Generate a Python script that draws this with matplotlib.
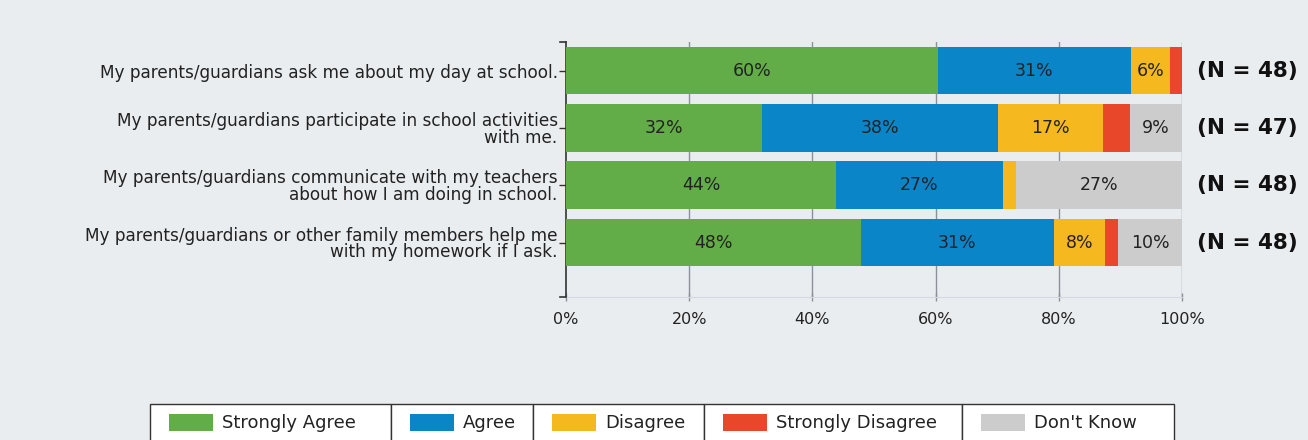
import numpy as np
import matplotlib
matplotlib.use("Agg")
import matplotlib.pyplot as plt
from matplotlib.patches import Rectangle

plt.rcParams['font.family'] = ['DejaVu Sans']

# survey items, top to bottom
questions = [
    "My parents/guardians ask me about my day at school.",
    "My parents/guardians participate in school activities\nwith me.",
    "My parents/guardians communicate with my teachers\nabout how I am doing in school.",
    "My parents/guardians or other family members help me\nwith my homework if I ask.",
]
n_resp = [48, 47, 48, 48]

categories = ["Strongly Agree", "Agree", "Disagree", "Strongly Disagree", "Don't Know"]
colors = ["#62ad47", "#0a85c8", "#f5b81e", "#e8472a", "#cccccc"]

# percent of respondents per category
strongly_agree = [60.4, 31.9, 43.8, 47.9]
agree = [31.3, 38.3, 27.1, 31.3]
disagree = [6.3, 17.0, 2.1, 8.3]
strongly_disagree = [2.1, 4.3, 0.0, 2.1]
dont_know = [0.0, 8.51, 27.1, 10.4]

series = [strongly_agree, agree, disagree, strongly_disagree, dont_know]
bg = "#eaedf0"
txt = "#222222"

fig = plt.figure(figsize=(13.08, 4.40), dpi=100, facecolor=bg)
ax = fig.add_axes([0.4327, 0.325, 0.4710, 0.5795])
ax.set_facecolor(bg)

y = np.arange(len(questions))
left = np.zeros(len(questions))
for vals, col in zip(series, colors):
    vals = np.array(vals)
    ax.barh(y, vals, left=left, height=0.83, color=col, zorder=3)
    for yi, (l, v) in enumerate(zip(left, vals)):
        if v >= 5:
            ax.text(l + v / 2, yi, f"{v:.0f}%", ha='center', va='center',
                    fontsize=12.5, color=txt, zorder=4)
    left += vals

ax.set_xlim(0, 100)
ax.set_ylim(3.95, -0.5)
ax.set_xticks([0, 20, 40, 60, 80, 100])
ax.set_xticklabels([f"{t}%" for t in range(0, 101, 20)], fontsize=11.5, color=txt)
ax.set_yticks(y)
ax.set_yticklabels(questions, fontsize=12.2, color=txt, linespacing=0.9)
ax.tick_params(axis='y', length=5, width=1, color="#333333", pad=1)
ax.tick_params(axis='x', length=6, width=1, color="#8a9199", pad=8, direction='inout')

for t in [20, 40, 60, 80, 100]:
    ax.axvline(t, color="#8a9199", lw=1, zorder=1)

for s in ['top', 'right']:
    ax.spines[s].set_visible(False)
ax.spines['bottom'].set_color("#d5d9de")
ax.spines['left'].set_color("#333333")
ax.spines['left'].set_linewidth(1.2)
# small end caps on the category axis
ax.plot([-1.0, 0], [-0.5, -0.5], color="#333333", lw=1.2, clip_on=False, zorder=5)
ax.plot([-1.0, 0], [3.95, 3.95], color="#333333", lw=1.2, clip_on=False, zorder=5)

for yi, n in zip(y, n_resp):
    ax.text(102.4, yi, f"(N = {n})", ha='left', va='center', fontsize=15.5,
            fontweight='bold', color="#111111", clip_on=False)

# legend drawn as a row of boxed cells
cell_edges = [150, 391, 533, 704, 962, 1174]
W, H = 1308, 440
top, bot = 404, 445
for i, (name, col) in enumerate(zip(categories, colors)):
    x0, x1 = cell_edges[i], cell_edges[i + 1]
    fig.patches.append(Rectangle((x0 / W, 1 - bot / H), (x1 - x0) / W, (bot - top) / H,
                                 transform=fig.transFigure, facecolor='white',
                                 edgecolor="#333333", lw=1))
    fig.patches.append(Rectangle(((x0 + 19) / W, 1 - 431 / H), 44 / W, 17 / H,
                                 transform=fig.transFigure, facecolor=col, lw=0))
    fig.text((x0 + 72) / W, 1 - 423 / H, name, ha='left', va='center',
             fontsize=13, color=txt)

fig.savefig("out.png", dpi=100, facecolor=bg)
